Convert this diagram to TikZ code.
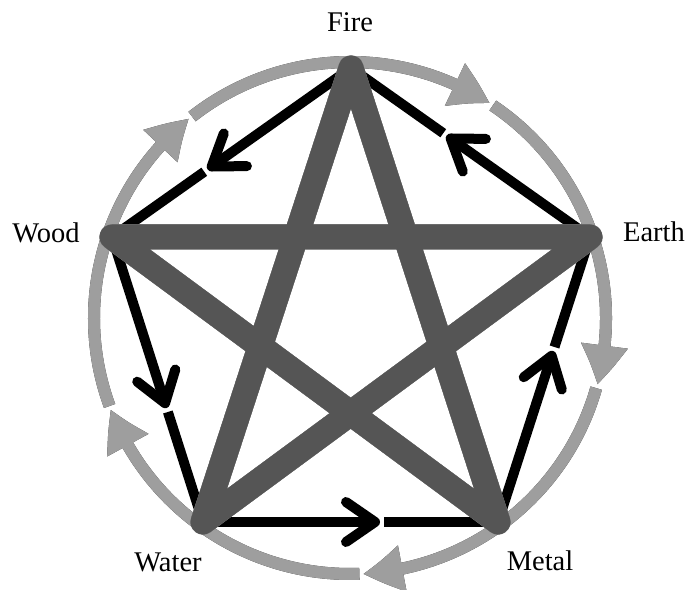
\documentclass[tikz,border=0pt]{standalone}
\usepackage{fontspec}
\setmainfont{Liberation Serif}
\usetikzlibrary{arrows.meta,bending,calc}
\definecolor{stargray}{HTML}{555555}
\definecolor{starlight}{HTML}{A8A8A8}
\definecolor{ringgray}{HTML}{9E9E9E}
\definecolor{shade}{HTML}{2A2A2A}

\begin{document}
\begin{tikzpicture}[
  x=1pt,y=1pt,
  every node/.style={font=\fontsize{28.5}{34}\selectfont,inner sep=0pt},
  elem/.style={anchor=base},
  ring/.style={line width=12pt,color=ringgray,-{Triangle[width=44pt,length=40pt,bend]}},
  ringshade/.style={ring,color=shade,xshift=1.3pt,yshift=-1.3pt},
  chord/.style={line width=10pt,color=black,-{Straight Barb[length=29pt,width=40pt,round]}},
  star/.style={line width=25pt,line join=round,color=stargray},
  starshade/.style={star,color=shade,xshift=1.3pt,yshift=-1.3pt},
  starhigh/.style={star,color=starlight,xshift=-1.3pt,yshift=1.3pt}
]
\useasboundingbox (0,0) rectangle (690,589);
\coordinate (c) at (350,271);
\coordinate (fire) at (351,521);
\coordinate (earth) at (590,352);
\coordinate (metal) at (498,67);
\coordinate (water) at (203,67);
\coordinate (wood) at (112,352);
\node[elem] (fireL) at (350,557) {Fire};
\node[elem] (earthL) at (654,347) {Earth};
\node[elem] (metalL) at (540,19) {Metal};
\node[elem] (waterL) at (168,18) {Water};
\node[elem] (woodL) at (46,346) {Wood};
% generating cycle on the ring
\foreach \m in {126,54,-18,-90,-162}{
  \draw[ringshade] ($(c)+(\m+2.1:256)$) arc[start angle=\m+2.1,end angle=\m-69.1,radius=256];
  \draw[ring] ($(c)+(\m+2.1:256)$) arc[start angle=\m+2.1,end angle=\m-69.1,radius=256];
}
% controlling arrows along the sides
\foreach \a/\b in {fire/wood,wood/water,water/metal,metal/earth,earth/fire}{
  \draw[chord] (\a) -- ($(\a)!0.6!(\b)$);
  \draw[chord,-] ($(\a)!0.614!(\b)$) -- (\b);
}
\draw[starshade] (fire) -- (metal) -- (wood) -- (earth) -- (water) -- cycle;
\draw[starhigh] (fire) -- (metal) -- (wood) -- (earth) -- (water) -- cycle;
\draw[star] (fire) -- (metal) -- (wood) -- (earth) -- (water) -- cycle;
\end{tikzpicture}
\end{document}
